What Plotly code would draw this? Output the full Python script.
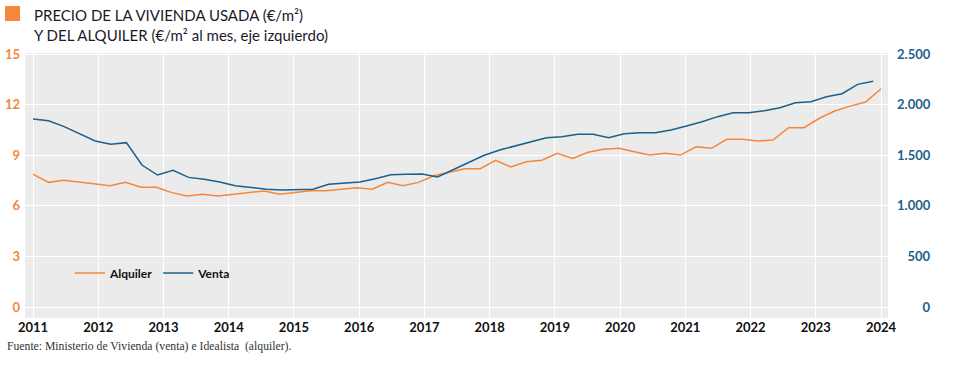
import numpy as np
import plotly.graph_objects as go

# ---------------- data ----------------
years = list(range(2011, 2025))
year_labels = [str(y) for y in years]

# Alquiler (€/m² al mes, eje izquierdo)
alquiler = [7.88, 7.39, 7.51, 7.39, 7.29, 7.19, 7.39, 7.10, 7.10, 6.78,
            6.58, 6.68, 6.58, 6.68, 6.78, 6.88, 6.68, 6.80, 6.89, 6.89,
            6.99, 7.07, 6.98, 7.39, 7.19, 7.39, 7.78, 8.00, 8.20, 8.20,
            8.70, 8.30, 8.61, 8.70, 9.11, 8.81, 9.17, 9.35, 9.41, 9.21,
            9.01, 9.11, 9.01, 9.50, 9.41, 9.94, 9.94, 9.84, 9.90, 10.63,
            10.63, 11.19, 11.62, 11.91, 12.15, 12.94]

# Venta (€/m², eje derecho)
venta = [1858, 1841, 1782, 1707, 1640, 1608, 1624, 1403, 1304, 1351,
         1281, 1262, 1235, 1199, 1179, 1163, 1156, 1158, 1163, 1212,
         1222, 1235, 1268, 1307, 1311, 1314, 1285, 1354, 1426, 1499,
         1551, 1594, 1634, 1673, 1683, 1707, 1707, 1673, 1713, 1722,
         1722, 1749, 1789, 1831, 1881, 1920, 1920, 1940, 1970, 2019,
         2029, 2078, 2108, 2200, 2230]

left_ticks = [0, 3, 6, 9, 12, 15]
right_ticks = [0, 500, 1000, 1500, 2000, 2500]
right_labels = ["0", "500", "1.000", "1.500", "2.000", "2.500"]

# periods (evenly spaced along the time axis)
x_alq = np.linspace(2011, 2024, len(alquiler))
x_venta = np.linspace(2011, 2023.88, len(venta))

ORANGE = "#F4873A"
BLUE = "#1D5F8A"
FONT = "Lato"

# right-align the right-axis labels with figure/punctuation spaces
def pad(s):
    n_digits_missing = 4 - sum(c.isdigit() for c in s)
    n_dots_missing = 1 - s.count(".")
    return "\u2007" * n_digits_missing + "\u2008" * n_dots_missing + s
right_text = [pad(s) for s in right_labels]

fig = go.Figure()
fig.add_trace(go.Scatter(x=x_alq, y=alquiler, name="Alquiler", mode="lines",
                         line=dict(color=ORANGE, width=1.5)))
fig.add_trace(go.Scatter(x=x_venta, y=venta, name="Venta", mode="lines",
                         line=dict(color=BLUE, width=1.5), yaxis="y2"))

fig.update_layout(
    width=953, height=367,
    margin=dict(l=25, r=65, t=53, b=49),
    paper_bgcolor="white",
    plot_bgcolor="#EBEBEB",
    font=dict(family=FONT, color="#1a1a1a"),
    xaxis=dict(range=[2010.877, 2024.107], tickvals=years, ticktext=year_labels,
               automargin=False,
               showgrid=True, gridcolor="white", gridwidth=1.2, zeroline=False,
               showline=False, ticks="",
               tickfont=dict(family=FONT, size=13, weight="bold", color="#111111")),
    yaxis=dict(range=[-0.652, 15.06], tickvals=left_ticks, automargin=False,
               showgrid=True, gridcolor="white", gridwidth=1.2, zeroline=False,
               showline=False, ticks="", ticklabelstandoff=4,
               tickfont=dict(family=FONT, size=13, weight="bold", color=ORANGE)),
    yaxis2=dict(range=[-108.7, 2510], overlaying="y", side="right", automargin=False,
                tickvals=right_ticks, ticktext=right_text,
                showgrid=False, zeroline=False, showline=False, ticks="",
                ticklabelstandoff=8,
                tickfont=dict(family=FONT, size=13, weight="bold", color=BLUE)),
    legend=dict(orientation="h", x=0.052, y=0.17, xanchor="left", yanchor="middle",
                bgcolor="rgba(0,0,0,0)", font=dict(family=FONT, size=12, weight="bold",
                                                   color="#111111"),
                itemwidth=30, traceorder="normal"),
    showlegend=True,
)

# title with orange square
fig.add_shape(type="rect", xref="paper", yref="paper",
              x0=-0.0232, x1=-0.0058, y0=1.1208, y1=1.177,
              fillcolor=ORANGE, line=dict(width=0))
fig.add_annotation(xref="paper", yref="paper", x=0.0081, y=1.185,
                   xanchor="left", yanchor="top", align="left", showarrow=False,
                   text="PRECIO DE LA VIVIENDA USADA (€/m²)<br>Y DEL ALQUILER (€/m² al mes, eje izquierdo)",
                   font=dict(family=FONT, size=15, color="#1a1a2a"))
fig.add_annotation(xref="paper", yref="paper", x=-0.0232, y=-0.109,
                   xanchor="left", yanchor="middle", showarrow=False,
                   text="Fuente: Ministerio de Vivienda (venta) e Idealista  (alquiler).",
                   font=dict(family="Liberation Serif", size=11.7, color="#333333"))

fig.write_html("out.html", config={"displayModeBar": False},
               post_script="document.body.style.margin='0px';document.body.style.padding='0px';")
